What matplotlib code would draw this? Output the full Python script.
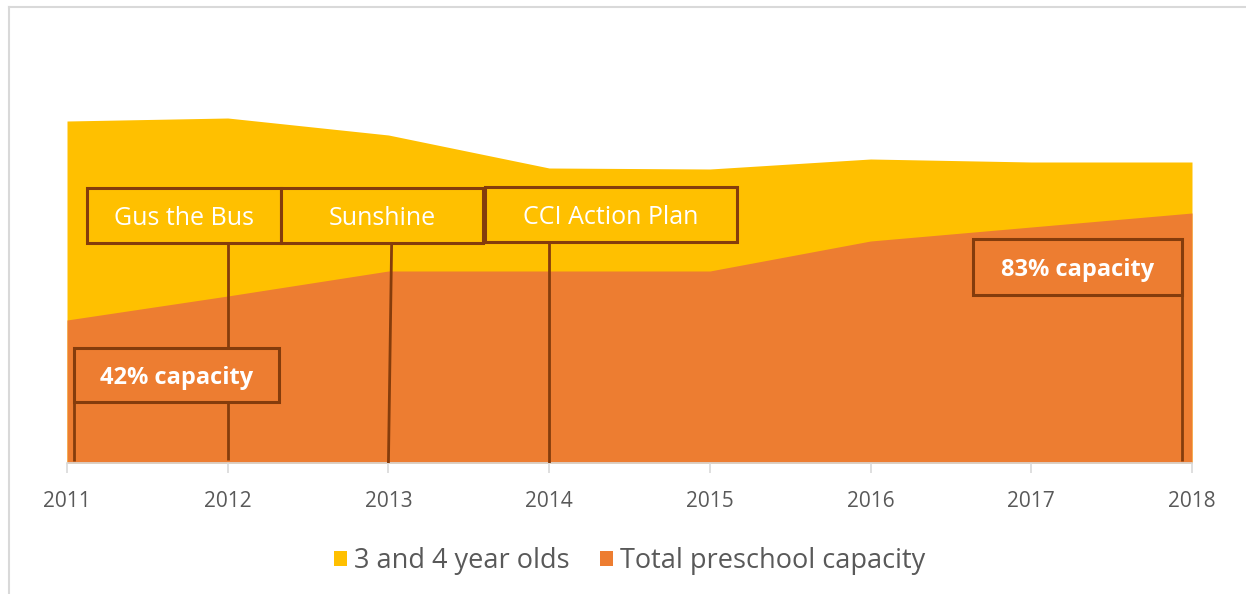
import numpy as np
import matplotlib.pyplot as plt
from matplotlib.patches import Rectangle
from matplotlib.lines import Line2D

plt.rcParams['font.family'] = ['Open Sans', 'DejaVu Sans']

# данные
years = [2011, 2012, 2013, 2014, 2015, 2016, 2017, 2018]
kids_3_4 = [342, 345, 328, 295, 294, 304, 301, 301]
capacity = [143, 167, 192, 192, 192, 222, 236, 250]
series_names = ['3 and 4 year olds', 'Total preschool capacity']

# подписи: текст, x0, x1, y0, y1, жирный
box_labels = ['Gus the Bus', 'Sunshine', 'CCI Action Plan', '42% capacity', '83% capacity']
box_x = [(2011.125, 2012.33), (2012.33, 2013.59), (2013.6, 2015.17), (2011.045, 2012.32), (2016.64, 2017.935)]
box_y = [(220, 275), (220, 275), (221, 276), (61, 115), (168, 224)]
box_bold = [False, False, False, True, True]
# выноски: x сверху, x снизу, y сверху, y снизу
leaders = [(2012.0, 2012.0, 220, 3), (2013.02, 2013.0, 220, 0), (2014.0, 2014.0, 221, 0),
           (2011.045, 2011.045, 61, 2), (2017.935, 2017.935, 168, 2)]

YEL = '#FFC000'
ORA = '#ED7D31'
BRN = '#843C0C'

fig = plt.figure(figsize=(12.46, 5.94), dpi=100)
ax = fig.add_axes([67 / 1246, (594 - 463) / 594, (1192 - 67) / 1246, 400 / 594])
ax.fill_between(years, 0, kids_3_4, color=YEL, lw=0, label=series_names[0])
ax.fill_between(years, 0, capacity, color=ORA, lw=0, label=series_names[1])
ax.set_xlim(2011, 2018)
ax.set_ylim(0, 400)

for i, txt in enumerate(box_labels):
    x0, x1 = box_x[i]
    y0, y1 = box_y[i]
    fc = ORA if box_bold[i] else YEL
    lx0, lx1, ly0, ly1 = leaders[i]
    ax.plot([lx0, lx1], [ly0, ly1], color=BRN, lw=2, solid_capstyle='butt', zorder=3)
    ax.add_patch(Rectangle((x0, y0), x1 - x0, y1 - y0, fc=fc, ec=BRN, lw=2.2, zorder=4))
    ax.text((x0 + x1) / 2, (y0 + y1) / 2 - 3, txt, color='white', ha='center', va='center',
            fontsize=17 if box_bold[i] else 18,
            fontweight='bold' if box_bold[i] else 'normal', zorder=5)

for s in ['top', 'right', 'left']:
    ax.spines[s].set_visible(False)
ax.spines['bottom'].set_color('#D9D9D9')
ax.spines['bottom'].set_linewidth(1.2)
ax.set_yticks([])
ax.set_xticks(years)
ax.tick_params(axis='x', colors='#D9D9D9', length=7, width=1.2, labelcolor='#595959',
               labelsize=15, pad=13)

ax.legend(loc='upper center', bbox_to_anchor=(0.5, -0.15), ncol=2, frameon=False,
          fontsize=19.5, handlelength=0.5, handleheight=0.5, handletextpad=0.25,
          columnspacing=1.1, labelcolor='#595959')

fig.add_artist(Line2D([9 / 1246, 9 / 1246], [0, 1 - 7 / 594], color='#D9D9D9', lw=1.5))
fig.add_artist(Line2D([9 / 1246, 1], [1 - 7 / 594, 1 - 7 / 594], color='#D9D9D9', lw=1.5))

fig.savefig('out.png', dpi=100)
